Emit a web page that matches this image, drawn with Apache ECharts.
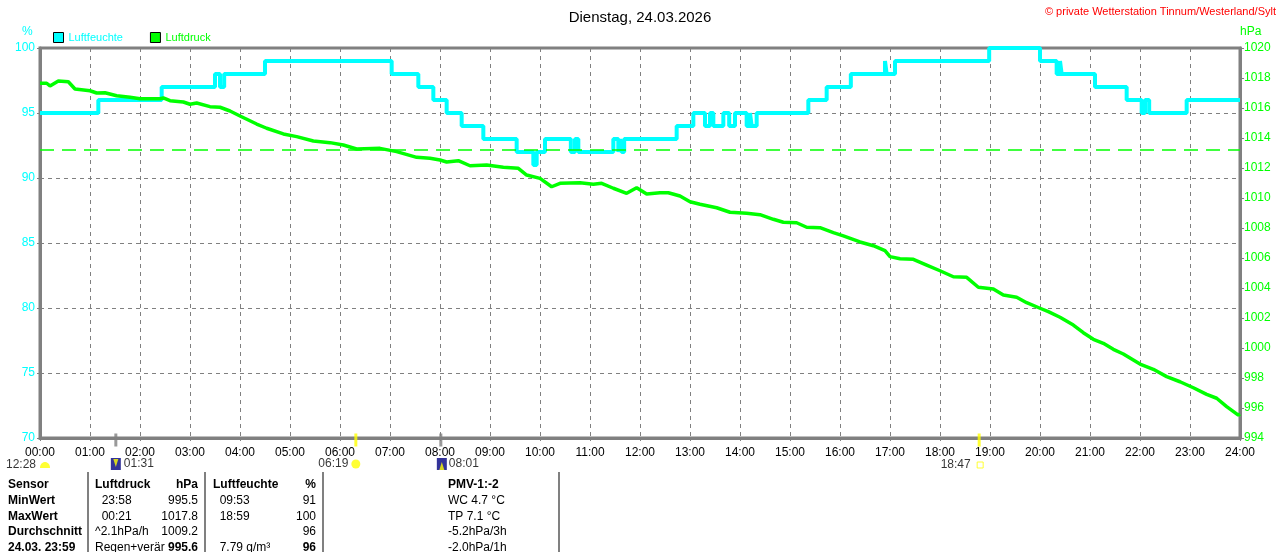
<!DOCTYPE html>
<html>
<head>
<meta charset="utf-8">
<script src="https://cdn.jsdelivr.net/npm/echarts@6/dist/echarts.min.js"></script>
<style>
  html, body { margin: 0; padding: 0; background: #fff; }
  #chart { width: 1280px; height: 552px; }
</style>
</head>
<body>
<div id="chart"></div>
<script type="text/javascript">

    // Zeitachse in Minuten seit 00:00
    var hourTicks = 60;

    // Luftfeuchte (%) - Stufenwerte, gilt ab dem jeweiligen Zeitpunkt
    var humTimes = [0,70,146,210,216,221,270,422,454,472,488,506,532,572,592,596,606,637,642,646,
                    688,694,696,698,701,764,784,798,804,808,820,827,834,848,852,854,860,922,944,973,
                    1014,1016,1026,1139,1200,1220,1224,1226,1266,1304,1322,1326,1331,1376,1440];
    var humValues = [95,96,97,98,97,98,99,98,97,96,95,94,93,92,91,92,93,92,93,92,
                     93,92,93,92,93,94,95,94,95,94,95,94,95,94,95,94,95,96,97,98,
                     99,98,99,100,99,98,99,98,97,96,95,96,95,96,96];

    // Luftdruck (hPa)
    var pressTimes = [0,8,12,22,34,42,60,68,78,92,108,120,144,148,156,172,180,188,204,216,
                      228,240,260,272,292,308,328,348,364,380,408,428,452,468,480,488,502,516,536,556,
                      574,584,600,614,624,648,664,674,688,704,716,728,744,754,768,780,792,812,828,848,
                      864,880,892,908,920,936,952,964,984,1000,1014,1020,1032,1048,1064,1080,1096,1112,1126,1144,
                      1156,1172,1184,1200,1210,1224,1240,1252,1264,1276,1288,1300,1320,1336,1352,1368,1384,1400,1412,1424,
                      1438,1440];
    var pressValues = [1017.65,1017.65,1017.47,1017.8,1017.75,1017.27,1017.15,1017.0,1017.02,1016.82,
                       1016.71,1016.62,1016.62,1016.67,1016.49,1016.4,1016.25,1016.33,1016.09,1016.05,
                       1015.8,1015.47,1014.93,1014.65,1014.27,1014.09,1013.8,1013.69,1013.53,1013.27,
                       1013.31,1013.09,1012.71,1012.65,1012.53,1012.4,1012.49,1012.15,1012.2,1012.05,
                       1011.98,1011.53,1011.31,1010.75,1010.98,1011.02,1010.91,1010.98,1010.65,1010.31,
                       1010.69,1010.27,1010.35,1010.35,1010.13,1009.75,1009.58,1009.35,1009.05,1008.98,
                       1008.89,1008.58,1008.38,1008.35,1008.05,1008.02,1007.69,1007.47,1007.07,1006.82,
                       1006.49,1006.09,1005.95,1005.91,1005.53,1005.15,1004.75,1004.71,1004.05,1003.93,
                       1003.53,1003.38,1003.02,1002.65,1002.42,1002.05,1001.53,1001.02,1000.58,1000.31,
                       999.91,999.6,998.93,998.58,998.09,997.75,997.35,996.91,996.65,996.09,
                       995.53,995.6];

    // Normaldruck
    var normalPressure = 1013.25;

    // Sonne / Mond Ereignisse (Minuten), Beschriftung
    var tickTimes = [91, 379, 481, 1127];
    var tickColors = ['#808080', '#ffff00', '#808080', '#ffff00'];
    var eventTimes = [0, 91, 379, 481, 1127];
    var eventLabels = ['12:28', '01:31', '06:19', '08:01', '18:47'];
    var eventKinds = ['moonset', 'moonrise', 'sunrise', 'moonrise2', 'sunset'];

    // Tabelle unten
    var tableRows = [
        ['Sensor', 'Luftdruck', 'hPa', 'Luftfeuchte', '%', 'PMV-1:-2'],
        ['MinWert', '  23:58', '995.5', '  09:53', '91', 'WC 4.7 °C'],
        ['MaxWert', '  00:21', '1017.8', '  18:59', '100', 'TP 7.1 °C'],
        ['Durchschnitt', '^2.1hPa/h', '1009.2', '', '96', '-5.2hPa/3h'],
        ['24.03. 23:59', 'Regen+verär', '995.6', '  7.79 g/m³', '96', '-2.0hPa/1h']
    ];

    var FONT = 'Liberation Sans, Arial, sans-serif';
    var chart = echarts.init(document.getElementById('chart'));

    function pad2(n) { return (n < 10 ? '0' : '') + n; }

    var humData = humTimes.map(function (t, i) { return [t, humValues[i]]; });
    var pressData = pressTimes.map(function (t, i) { return [t, pressValues[i]]; });

    // Symbole fuer die Ereignisse
    var moonPath = 'path://M0,10 C0,2 4,0 6,0 C8,0 12,2 12,10 Z';
    var eventSymbols = {
        moonset:  { symbol: moonPath, size: [10, 6], off: [5, 27], color: '#ffff00', pos: 'left', dist: 4 },
        moonrise: { symbol: 'rect', size: [10, 12], off: [0, 26], color: '#000080', pos: 'right', dist: 3 },
        sunrise:  { symbol: 'circle', size: [9, 9], off: [0, 26], color: '#ffff00', pos: 'left', dist: 3 },
        moonrise2:{ symbol: 'rect', size: [10, 12], off: [1, 26], color: '#000080', pos: 'right', dist: 2 },
        sunset:   { symbol: 'rect', size: [6, 6], off: [1, 27], color: 'transparent', border: '#ffff00', pos: 'left', dist: 6 }
    };
    var eventData = eventTimes.map(function (t, i) {
        var s = eventSymbols[eventKinds[i]];
        return {
            value: [t, 70],
            symbol: s.symbol,
            symbolSize: s.size,
            symbolOffset: s.off,
            itemStyle: { color: s.color, borderColor: s.border || s.color, borderWidth: s.border ? 1 : 0 },
            label: { show: true, formatter: eventLabels[i], position: s.pos, distance: s.dist,
                     color: '#000', fontSize: 12, fontFamily: FONT }
        };
    });
    // gelbe Pfeile in den Mond-Kaestchen
    var arrowData = [
        { value: [91, 70], symbol: 'triangle', symbolRotate: 180, symbolSize: [5, 8], symbolOffset: [0, 25] },
        { value: [481, 70], symbol: 'triangle', symbolSize: [5, 8], symbolOffset: [1, 28] }
    ];
    var tickData = tickTimes.map(function (t, i) {
        return { value: [t, 70], itemStyle: { color: tickColors[i] } };
    });

    // Tabelle als graphic
    var colX = [8, 95, 198, 213, 316, 448];
    var colAlign = ['left', 'left', 'right', 'left', 'right', 'left'];
    var rowY = [485, 501, 517, 532, 548];
    var graphics = [];
    tableRows.forEach(function (row, r) {
        row.forEach(function (txt, c) {
            var bold = (r === 0 || c === 0 || (r === 4 && (c === 2 || c === 4)));
            graphics.push({
                type: 'text',
                x: colX[c],
                y: rowY[r],
                style: { text: txt, fill: '#000', font: (bold ? 'bold ' : '') + '12px ' + FONT,
                         textAlign: colAlign[c], textVerticalAlign: 'middle' }
            });
        });
    });
    [88, 205, 323, 559].forEach(function (x) {
        graphics.push({ type: 'line', shape: { x1: x, y1: 472, x2: x, y2: 552 },
                        style: { stroke: '#808080', lineWidth: 2 } });
    });
    graphics.push({ type: 'text', right: 4, top: 6,
                    style: { text: '© private Wetterstation Tinnum/Westerland/Sylt', fill: '#ff0000', font: '11px ' + FONT } });
    graphics.push({ type: 'text', left: 22, top: 26, style: { text: '%', fill: '#00ffff', font: '12px ' + FONT } });
    graphics.push({ type: 'text', left: 1240, top: 26, style: { text: 'hPa', fill: '#00ff00', font: '12px ' + FONT } });

    var option = {
        animation: false,
        backgroundColor: '#fff',
        title: {
            text: 'Dienstag, 24.03.2026',
            left: 'center', top: 5,
            textStyle: { color: '#000', fontSize: 15, fontWeight: 'normal', fontFamily: FONT }
        },
        legend: {
            left: 48, top: 27,
            itemWidth: 10, itemHeight: 10, itemGap: 27,
            icon: 'rect',
            data: [
                { name: 'Luftfeuchte', textStyle: { color: '#00ffff' }, itemStyle: { color: '#00ffff', borderColor: '#000', borderWidth: 1 } },
                { name: 'Luftdruck', textStyle: { color: '#00ff00' }, itemStyle: { color: '#00ff00', borderColor: '#000', borderWidth: 1 } }
            ],
            textStyle: { fontSize: 11, fontFamily: FONT }
        },
        grid: {
            left: 40, right: 40, top: 48, bottom: 114,
            show: true, borderColor: '#808080', borderWidth: 3, backgroundColor: 'transparent'
        },
        xAxis: {
            type: 'value', min: 0, max: 1440, interval: hourTicks,
            axisLine: { lineStyle: { color: '#808080', width: 3 } },
            axisTick: { show: true, length: 3, lineStyle: { color: '#808080' } },
            axisLabel: {
                color: '#000', fontSize: 12, fontFamily: FONT, margin: 9,
                formatter: function (v) { return pad2(Math.round(v / 60)) + ':00'; }
            },
            splitLine: { show: true, lineStyle: { color: '#808080', type: [4, 4], width: 1 } }
        },
        yAxis: [
            {
                type: 'value', min: 70, max: 100, interval: 5,
                axisLine: { show: true, lineStyle: { color: '#808080', width: 3 } },
                axisTick: { show: true, length: 3, lineStyle: { color: '#808080' } },
                axisLabel: { color: '#00ffff', fontSize: 12, fontFamily: FONT, margin: 5 },
                splitLine: { show: true, lineStyle: { color: '#808080', type: [4, 4], width: 1 } }
            },
            {
                type: 'value', min: 994, max: 1020, interval: 2,
                axisLine: { show: true, lineStyle: { color: '#808080', width: 3 } },
                axisTick: { show: true, length: 4, lineStyle: { color: '#808080' } },
                axisLabel: { color: '#00ff00', fontSize: 12, fontFamily: FONT, margin: 4,
                             formatter: function (v) { return String(v); } },
                splitLine: { show: false }
            }
        ],
        series: [
            {
                name: 'Luftfeuchte', type: 'line', step: 'end', yAxisIndex: 0,
                showSymbol: false, data: humData,
                lineStyle: { color: '#00ffff', width: 4 }, itemStyle: { color: '#00ffff' }
            },
            {
                name: 'Luftdruck', type: 'line', yAxisIndex: 1,
                showSymbol: false, data: pressData,
                lineStyle: { color: '#00ff00', width: 3.5 }, itemStyle: { color: '#00ff00' },
                markLine: {
                    silent: true, symbol: 'none', label: { show: false },
                    lineStyle: { color: '#00ff00', type: [14, 8], width: 1.5 },
                    data: [{ yAxis: normalPressure }]
                }
            },
            {
                name: 'ticks', type: 'scatter', yAxisIndex: 0, clip: false, silent: true,
                symbol: 'rect', symbolSize: [3, 13], symbolOffset: [0, 2], data: tickData, z: 5
            },
            {
                name: 'events', type: 'scatter', yAxisIndex: 0, clip: false, silent: true,
                data: eventData, z: 5
            },
            {
                name: 'arrows', type: 'scatter', yAxisIndex: 0, clip: false, silent: true,
                itemStyle: { color: '#ffff00' }, data: arrowData, z: 6
            }
        ],
        graphic: graphics
    };
    chart.setOption(option);
</script>
</body>
</html>
